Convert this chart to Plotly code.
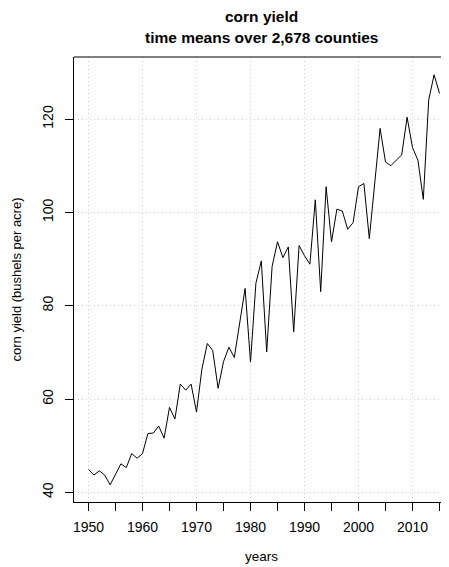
import plotly.graph_objects as go

years = list(range(1950, 2016))
yield_bu = [44.9, 43.7, 44.6, 43.7, 41.6, 43.9, 46.1, 45.3, 48.3, 47.3,
            48.3, 52.6, 52.7, 54.2, 51.6, 58.2, 55.7, 63.2, 61.9, 63.2,
            57.2, 66.4, 71.9, 70.4, 62.3, 68.0, 71.1, 68.9, 76.2, 83.7,
            67.9, 84.8, 89.6, 70.1, 88.4, 93.7, 90.3, 92.6, 74.4, 92.9,
            90.7, 88.9, 102.7, 83.0, 105.5, 93.7, 100.7, 100.3, 96.4, 97.8,
            105.5, 106.2, 94.4, 106.2, 118.0, 110.8, 110.0, 111.2, 112.3, 120.4,
            113.9, 111.2, 102.8, 124.1, 129.5, 125.5]

x_major = [1950, 1960, 1970, 1980, 1990, 2000, 2010]
y_ticks = [40, 60, 80, 100, 120]
title_lines = ["corn yield", "time means over 2,678 counties"]

FONT = "Liberation Sans, Arial, Helvetica, sans-serif"
GRID = "#d0d0d0"

fig = go.Figure()
fig.add_trace(go.Scatter(x=years, y=yield_bu, mode="lines",
                         line=dict(color="black", width=1), showlegend=False))

# page body adds an 8px offset; figure laid out 8px smaller
fig.update_layout(
    width=441, height=559,
    margin=dict(l=66, r=0, t=49, b=65),
    paper_bgcolor="white", plot_bgcolor="white",
    font=dict(family=FONT, size=13, color="black"),
    xaxis=dict(range=[1947.315, 2016.76], tickvals=x_major,
               showline=True, linecolor="black", linewidth=1,
               ticks="outside", ticklen=8, tickcolor="black", tickwidth=1,
               showgrid=True, gridcolor=GRID, griddash="1px,3px", gridwidth=1,
               minor=dict(dtick=5, tick0=1950, ticks="outside", ticklen=8,
                          tickcolor="black", tickwidth=1, showgrid=False),
               zeroline=False, ticklabelstandoff=4,
               title=dict(text="years", standoff=17, font=dict(size=13.5)),
               tickfont=dict(size=14)),
    yaxis=dict(range=[37.92, 133.31], tickvals=y_ticks,
               showline=True, linecolor="black", linewidth=1,
               ticks="outside", ticklen=8, tickcolor="black", tickwidth=1,
               showgrid=True, gridcolor=GRID, griddash="1px,3px", gridwidth=1,
               zeroline=False, tickangle=-90, ticklabelstandoff=6,
               title=dict(text="corn yield (bushels per acre)", standoff=15,
                          font=dict(size=13)),
               tickfont=dict(size=14)),
    shapes=[dict(type="line", xref="paper", yref="paper", x0=0, x1=1, y0=1, y1=1,
                 line=dict(color="black", width=1))],
    annotations=[
        dict(text="<b>" + title_lines[0] + "</b>", xref="paper", yref="paper",
             x=0.5, y=1.0899, xanchor="center", yanchor="middle", showarrow=False,
             font=dict(family=FONT, size=15.5, color="black")),
        dict(text="<b>" + title_lines[1] + "</b>", xref="paper", yref="paper",
             x=0.5, y=1.0427, xanchor="center", yanchor="middle", showarrow=False,
             font=dict(family=FONT, size=15.5, color="black")),
    ],
)

fig.write_html("out.html")
